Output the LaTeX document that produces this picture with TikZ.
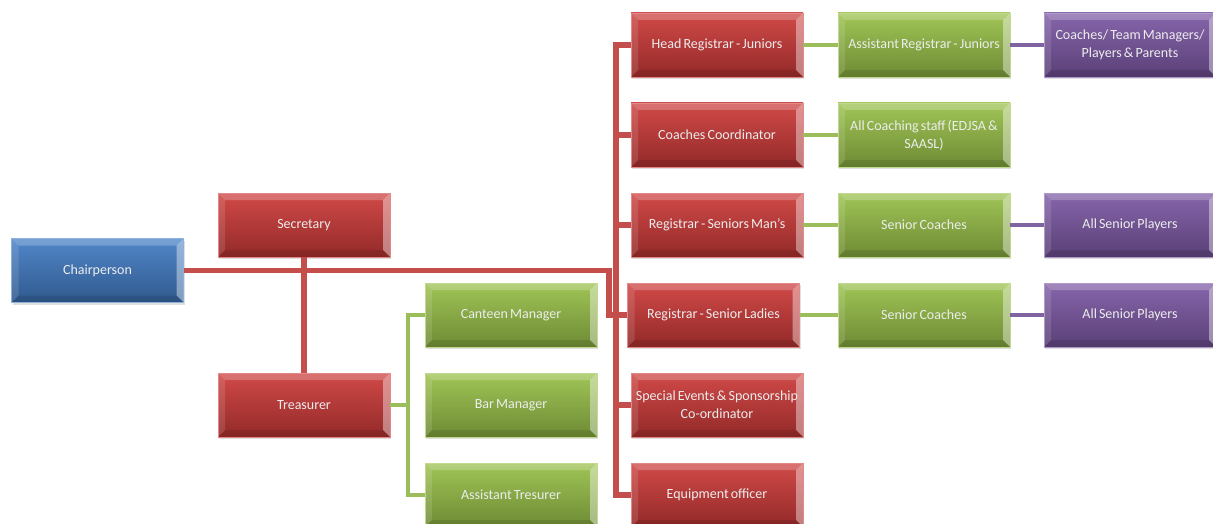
\documentclass[tikz,border=0pt]{standalone}
\usepackage{fontspec}
\setmainfont{Carlito}
\usepackage{tikz}
\usetikzlibrary{positioning,shadows,calc}

\definecolor{boxblue}{RGB}{66,124,196}
\definecolor{boxred}{RGB}{204,58,56}
\definecolor{boxgreen}{RGB}{152,192,72}
\definecolor{boxpurple}{RGB}{124,88,164}
\definecolor{linered}{RGB}{196,78,76}
\definecolor{linegreen}{RGB}{155,190,90}
\definecolor{linepurple}{RGB}{128,100,162}

\newcommand{\boxfont}{\fontsize{14}{18}\selectfont\spaceskip=0.15em plus 0.05em}
% bevel on the box edges
\newcommand{\bevelfill}{%
  \fill[white,opacity=0.22] (path picture bounding box.north west) -- (path picture bounding box.north east)
    -- ([shift={(-7pt,-7pt)}]path picture bounding box.north east) -- ([shift={(7pt,-7pt)}]path picture bounding box.north west) -- cycle;
  \fill[white,opacity=0.12] (path picture bounding box.north west) -- ([shift={(7pt,-7pt)}]path picture bounding box.north west)
    -- ([shift={(7pt,7pt)}]path picture bounding box.south west) -- (path picture bounding box.south west) -- cycle;
  \fill[white,opacity=0.4] (path picture bounding box.north east) -- ([shift={(-7pt,-7pt)}]path picture bounding box.north east)
    -- ([shift={(-7pt,7pt)}]path picture bounding box.south east) -- (path picture bounding box.south east) -- cycle;
  \fill[black,opacity=0.1] (path picture bounding box.south west) -- (path picture bounding box.south east)
    -- ([shift={(-7pt,7pt)}]path picture bounding box.south east) -- ([shift={(7pt,7pt)}]path picture bounding box.south west) -- cycle;}

\tikzset{
  orgbox/.style={minimum width=172pt, minimum height=64pt, inner sep=1pt, align=center,
    text=white!93!black, font=\boxfont, draw=#1!60!white, line width=0.6pt,
    top color=#1!92!white, bottom color=#1!72!black, path picture={\bevelfill},
    drop shadow={opacity=0.25, shadow xshift=1pt, shadow yshift=-2pt}},
  redline/.style={linered, line width=5.5pt},
  greenline/.style={linegreen, line width=4.5pt},
  purpleline/.style={linepurple, line width=4.5pt},
}

\begin{document}
\begin{tikzpicture}[x=1pt, y=-1pt]
\useasboundingbox (0,0) rectangle (1213,524);

\coordinate (bend) at (609,0);
\coordinate (trunk) at (616,0);
\coordinate (gtrunk) at (408,0);

\node[orgbox=boxblue] (chair) at (97.5,270.5) {Chairperson};
\node[orgbox=boxred] (sec) at (304,225) {Secretary};
\node[orgbox=boxred] (treas) at (304,405) {Treasurer};

\node[orgbox=boxgreen] (canteen) at (511,315) {Canteen Manager};
\node[orgbox=boxgreen] (bar) at (511,405) {Bar Manager};
\node[orgbox=boxgreen] (asst) at (511,495) {Assistant Tresurer};

\node[orgbox=boxred] (head) at (717,45) {Head Registrar - Juniors};
\node[orgbox=boxred] (coord) at (717,135) {Coaches Coordinator};
\node[orgbox=boxred] (man) at (717,225) {Registrar - Seniors Man's};
\node[orgbox=boxred] (ladies) at (713.5,315) {Registrar - Senior Ladies};
\node[orgbox=boxred] (special) at (717,405) {Special Events \& Sponsorship\\Co-ordinator};
\node[orgbox=boxred] (equip) at (717,495) {Equipment officer};

\node[orgbox=boxgreen] (asstreg) at (924,45) {Assistant Registrar - Juniors};
\node[orgbox=boxgreen] (allcoach) at (924,135) {All Coaching staff (EDJSA \&\\SAASL)};
\node[orgbox=boxgreen] (mancoach) at (924,225) {Senior Coaches};
\node[orgbox=boxgreen] (ladycoach) at (924,315) {Senior Coaches};

\node[orgbox=boxpurple] (juniors) at (1130,45) {Coaches/ Team Managers/\\Players \& Parents};
\node[orgbox=boxpurple] (manplay) at (1130,225) {All Senior Players};
\node[orgbox=boxpurple] (ladyplay) at (1130,315) {All Senior Players};

\draw[redline] (sec.south) -- (treas.north);
\draw[redline] (chair.east) -- (bend |- chair.east) |- (ladies.west);
\draw[redline] (head.west) -| (trunk |- equip.west) -- (equip.west);
\foreach \n in {coord,man,special}
  \draw[redline] (\n.west) -- (trunk |- \n.west);

\draw[greenline] (treas.east) -- (gtrunk |- treas.east);
\draw[greenline] (canteen.west) -| (gtrunk |- asst.west) -- (asst.west);

\draw[greenline] (head) -- (asstreg);
\draw[greenline] (coord) -- (allcoach);
\draw[greenline] (man) -- (mancoach);
\draw[greenline] (ladies) -- (ladycoach);
\draw[purpleline] (asstreg) -- (juniors);
\draw[purpleline] (mancoach) -- (manplay);
\draw[purpleline] (ladycoach) -- (ladyplay);
\end{tikzpicture}
\end{document}
